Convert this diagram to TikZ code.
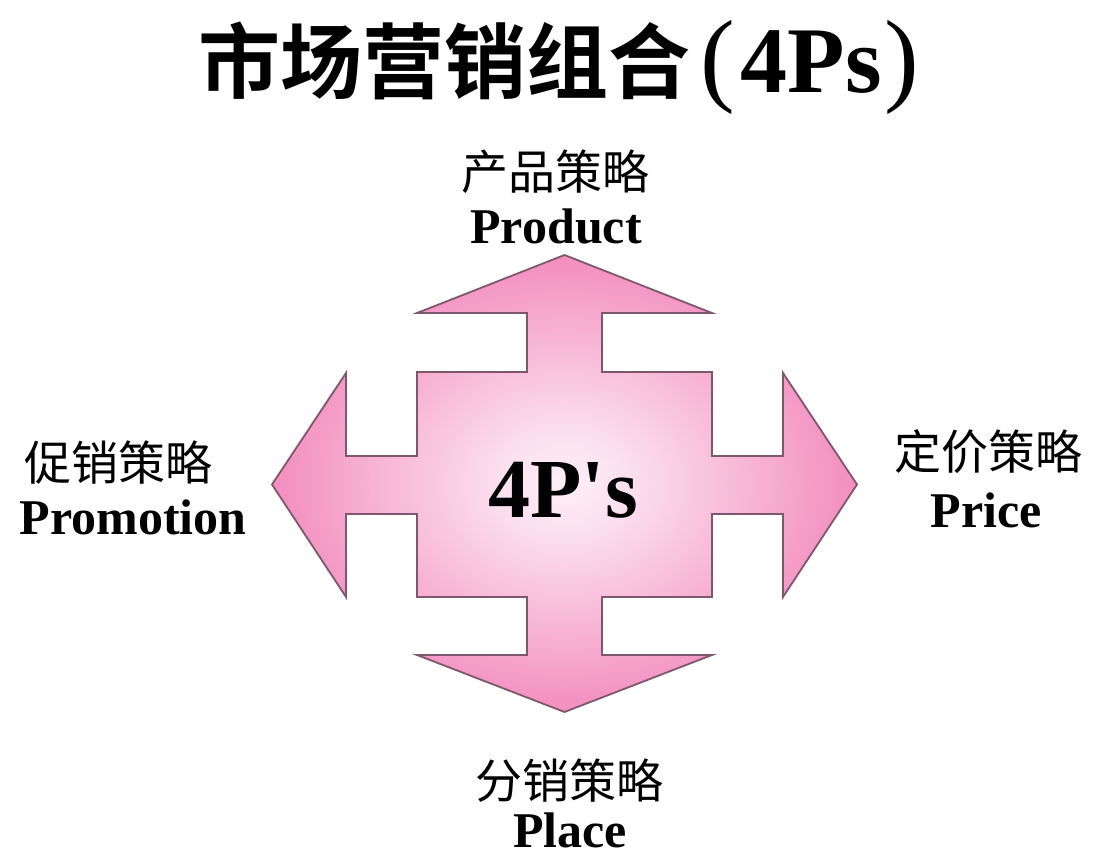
\documentclass[tikz,border=0pt]{standalone}
\usepackage{fontspec}
\setmainfont{Liberation Serif}
\newfontfamily\rawserif{Liberation Serif}[Ligatures=TeXOff]
\newfontfamily\cjk{Noto Sans CJK SC}
\newfontfamily\cjkb{Noto Sans CJK SC Bold}
\definecolor{pinkA}{RGB}{253,240,247}
\definecolor{pinkB}{RGB}{251,222,237}
\definecolor{pinkC}{RGB}{247,180,213}
\definecolor{pinkD}{RGB}{243,145,193}
\definecolor{pinkE}{RGB}{240,130,183}
\definecolor{edgecol}{RGB}{125,88,108}
\pgfdeclareradialshading{crossshade}{\pgfpoint{0bp}{0bp}}{color(0bp)=(pinkA); color(6bp)=(pinkB); color(16bp)=(pinkC); color(24bp)=(pinkD); color(35bp)=(pinkE); color(50bp)=(pinkE)}
\tikzset{
  cnlabel/.style={font=\cjk\fontsize{47}{47}\selectfont, inner sep=0pt, text=black},
  enlabel/.style={font=\bfseries\fontsize{50}{50}\selectfont, inner sep=0pt, text=black},
}
\begin{document}
\begin{tikzpicture}[x=1pt,y=-1pt]
\useasboundingbox[fill=white] (0,0) rectangle (1093,858);
% title
\node[anchor=base west, inner sep=0pt] (title) at (198,93)
  {\cjkb\fontsize{82}{82}\selectfont 市场营销组合\hspace{10pt}{\rmfamily\mdseries\fontsize{104}{104}\selectfont(}\hspace{6pt}{\rmfamily\bfseries\fontsize{94}{94}\selectfont 4Ps}\hspace{3pt}{\rmfamily\mdseries\fontsize{104}{104}\selectfont)}};
% cross of four arrows
\shadedraw[shading=crossshade, draw=edgecol, line width=1.8pt, line join=miter]
  (564.5,255) -- (712,313) -- (602,313) -- (602,372) -- (712,372) -- (712,456)
  -- (783,456) -- (783,373) -- (857,484.5) -- (783,597) -- (783,514) -- (712,514)
  -- (712,597) -- (602,597) -- (602,655) -- (712,655) -- (564.5,712) -- (417,655)
  -- (527,655) -- (527,597) -- (417,597) -- (417,514) -- (346,514) -- (346,597)
  -- (272,484.5) -- (346,373) -- (346,456) -- (417,456) -- (417,372) -- (527,372)
  -- (527,313) -- (417,313) -- cycle;
\node[font=\rawserif\bfseries\fontsize{84}{84}\selectfont, inner sep=0pt] (core) at (563,490) {4P's};
% labels
\node[cnlabel] (productcn) at (555,172) {产品策略};
\node[enlabel] (producten) at (556,226) {Product};
\node[cnlabel] (promocn) at (118,463) {促销策略};
\node[enlabel] (promoen) at (133,517) {Promotion};
\node[cnlabel] (pricecn) at (988,452) {定价策略};
\node[enlabel] (priceen) at (986,510) {Price};
\node[cnlabel] (placecn) at (569,781) {分销策略};
\node[enlabel] (placeen) at (570,830) {Place};
\end{tikzpicture}
\end{document}
